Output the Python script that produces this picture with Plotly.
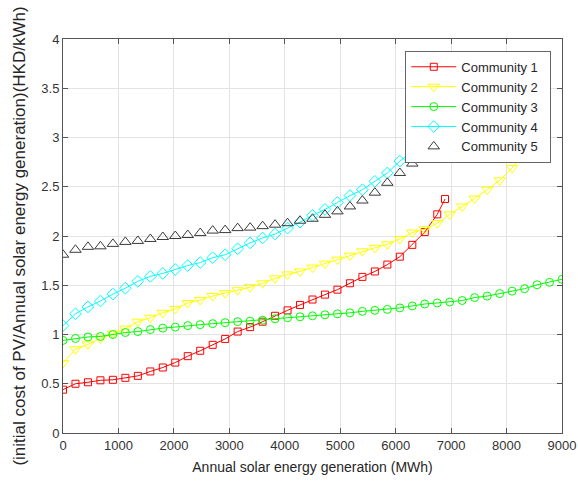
import plotly.graph_objects as go

step = 225
c1_x = [step * i for i in range(31)] + [6890]
c1_y = [0.44, 0.50, 0.515, 0.535, 0.54, 0.56, 0.58, 0.625, 0.665, 0.715, 0.78, 0.835, 0.895, 0.955,
        1.03, 1.075, 1.13, 1.19, 1.245, 1.30, 1.355, 1.405, 1.455, 1.52, 1.585, 1.64, 1.71, 1.79,
        1.91, 2.04, 2.22, 2.375]

c2_x = [step * i for i in range(38)]
c2_y = [0.71, 0.85, 0.90, 0.96, 1.01, 1.06, 1.13, 1.17, 1.22, 1.26, 1.32, 1.35, 1.39, 1.42, 1.45,
        1.48, 1.52, 1.57, 1.61, 1.64, 1.68, 1.72, 1.76, 1.80, 1.845, 1.88, 1.915, 1.97, 2.035, 2.07,
        2.13, 2.22, 2.30, 2.38, 2.47, 2.565, 2.69, 2.86]

c3_x = [step * i for i in range(41)]
c3_y = [0.94, 0.96, 0.975, 0.98, 1.0, 1.02, 1.03, 1.05, 1.065, 1.075, 1.09, 1.10, 1.11, 1.12, 1.13,
        1.135, 1.145, 1.16, 1.17, 1.18, 1.19, 1.20, 1.21, 1.22, 1.235, 1.245, 1.255, 1.27, 1.29, 1.31,
        1.32, 1.33, 1.345, 1.375, 1.39, 1.415, 1.44, 1.465, 1.505, 1.53, 1.56]

c4_x = [step * i for i in range(29)]
c4_y = [1.09, 1.21, 1.28, 1.34, 1.41, 1.47, 1.54, 1.59, 1.62, 1.66, 1.70, 1.73, 1.78, 1.81, 1.87,
        1.93, 1.98, 2.02, 2.08, 2.14, 2.21, 2.27, 2.34, 2.41, 2.47, 2.555, 2.64, 2.76, 2.86]

c5_x = [step * i for i in range(30)]
c5_y = [1.81, 1.86, 1.89, 1.895, 1.92, 1.94, 1.95, 1.97, 1.99, 2.0, 2.01, 2.03, 2.055, 2.06, 2.08,
        2.085, 2.10, 2.115, 2.13, 2.155, 2.175, 2.215, 2.25, 2.30, 2.36, 2.44, 2.54, 2.64, 2.735, 2.85]

names = ["Community 1", "Community 2", "Community 3", "Community 4", "Community 5"]
x_ticks = [0, 1000, 2000, 3000, 4000, 5000, 6000, 7000, 8000, 9000]
y_ticks = [0, 0.5, 1, 1.5, 2, 2.5, 3, 3.5, 4]

font = "Liberation Sans, Arial, sans-serif"
fig = go.Figure()

series = [
    (c1_x, c1_y, "#ff0000", "square-open", 7, "lines+markers"),
    (c2_x, c2_y, "#ffff00", "triangle-down-open", 10, "lines+markers"),
    (c3_x, c3_y, "#00ff00", "circle-open", 8, "lines+markers"),
    (c4_x, c4_y, "#00ffff", "diamond-open", 9, "lines+markers"),
    (c5_x, c5_y, "#3a3a3a", "triangle-up-open", 10, "markers"),
]
for (xs, ys, col, sym, sz, mode), nm in zip(series, names):
    fig.add_trace(go.Scatter(
        x=xs, y=ys, name=nm + "\u00a0\u00a0", mode=mode,
        line=dict(color=col, width=1),
        marker=dict(symbol=sym, size=sz, color=col, line=dict(width=1, color=col)),
    ))

axis_common = dict(
    showgrid=True, gridcolor="#e3e3e3", gridwidth=1,
    showline=True, linecolor="#555555", linewidth=1, mirror="ticks",
    ticks="inside", ticklen=5, tickcolor="#555555",
    tickfont=dict(family=font, size=13, color="#333333"),
    zeroline=False, automargin=False, ticklabeloverflow="allow",
)
fig.update_xaxes(range=[0, 9000], tickvals=x_ticks,
                 title=dict(text="Annual solar energy generation (MWh)",
                            font=dict(family=font, size=14, color="#262626"), standoff=10),
                 **axis_common)
fig.update_yaxes(range=[0, 4], tickvals=y_ticks,
                 ticktext=["0", "0.5", "1", "1.5", "2", "2.5", "3", "3.5", "4"],
                 title=dict(text="(initial cost of PV/Annual solar energy generation)(HKD/kWh)",
                            font=dict(family=font, size=17, color="#262626"), standoff=11),
                 **axis_common)

fig.update_layout(
    width=578, height=481,
    margin=dict(l=63, r=16, t=39, b=48),
    paper_bgcolor="white", plot_bgcolor="white",
    showlegend=True,
    legend=dict(x=0.9785, xanchor="right", y=0.97, yanchor="top",
                bgcolor="white", bordercolor="#666666", borderwidth=1,
                font=dict(family=font, size=13, color="#262626"),
                tracegroupgap=0, itemwidth=45),
)

fig.write_html(
    "out.html",
    config={"displayModeBar": False},
    post_script="document.body.style.margin='0';document.body.style.overflow='hidden';",
)
